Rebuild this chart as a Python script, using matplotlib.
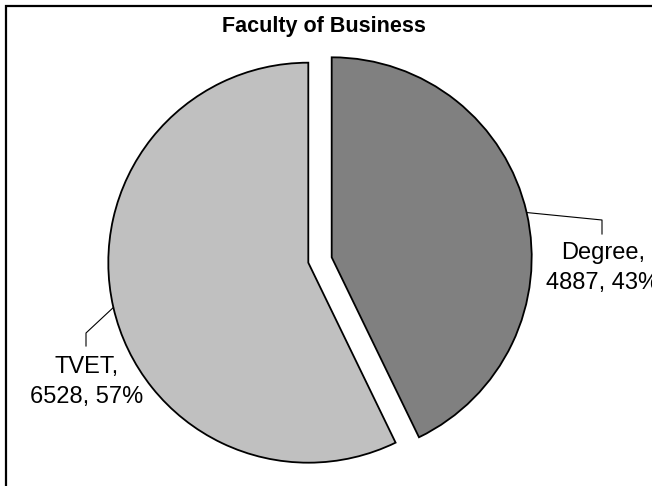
import numpy as np
import matplotlib
matplotlib.use('Agg')
import matplotlib.pyplot as plt
from matplotlib.patches import Rectangle

plt.rcParams['font.family'] = ['Liberation Sans', 'DejaVu Sans']

# 数据
categories = ['Degree', 'TVET']
counts = [4887, 6528]
colors = ['#808080', '#C0C0C0']
title = 'Faculty of Business'

W, H = 652, 486
fig = plt.figure(figsize=(W / 100, H / 100), dpi=100)
ax = fig.add_axes([0, 0, 1, 1])
ax.set_xlim(0, W)
ax.set_ylim(0, H)
ax.set_aspect('equal')
ax.axis('off')

# 外框 (超出右下边界)
ax.add_patch(Rectangle((6, -10), W + 20, H - 6 + 10, fill=False, lw=1.6, ec='black'))

radius = 200
center = (320, H - 260)
expl = 0.06 * radius  # pie 的 explode 用的是数据单位
wedges, _ = ax.pie(counts, colors=colors, startangle=90, counterclock=False,
                   explode=[expl, expl], radius=radius, center=center,
                   wedgeprops=dict(edgecolor='black', linewidth=1.3))
ax.set_xlim(0, W)
ax.set_ylim(0, H)

total = sum(counts)
# 标签位置 (像素, y 向下)
label_pos = [(603, 268), (87, 382)]
elbow = [(602, 220), (86, 333)]
elbow_end = [(602, 234), (86, 346)]

for w, name, val, lp, el, ee in zip(wedges, categories, counts, label_pos, elbow, elbow_end):
    ang = np.deg2rad((w.theta1 + w.theta2) / 2)
    cx, cy = w.center
    sx = cx + radius * np.cos(ang)
    sy = cy + radius * np.sin(ang)
    ax.plot([sx, el[0], ee[0]], [sy, H - el[1], H - ee[1]], color='black', lw=0.8)
    pct = round(val / total * 100)
    ax.text(lp[0], H - lp[1], f'{name},\n{val}, {pct}%', ha='center', va='center',
            fontsize=17, linespacing=1.45)

ax.text(324, H - 27, title, ha='center', va='center', fontsize=15.5, fontweight='bold')

fig.savefig('out.png', dpi=100)
